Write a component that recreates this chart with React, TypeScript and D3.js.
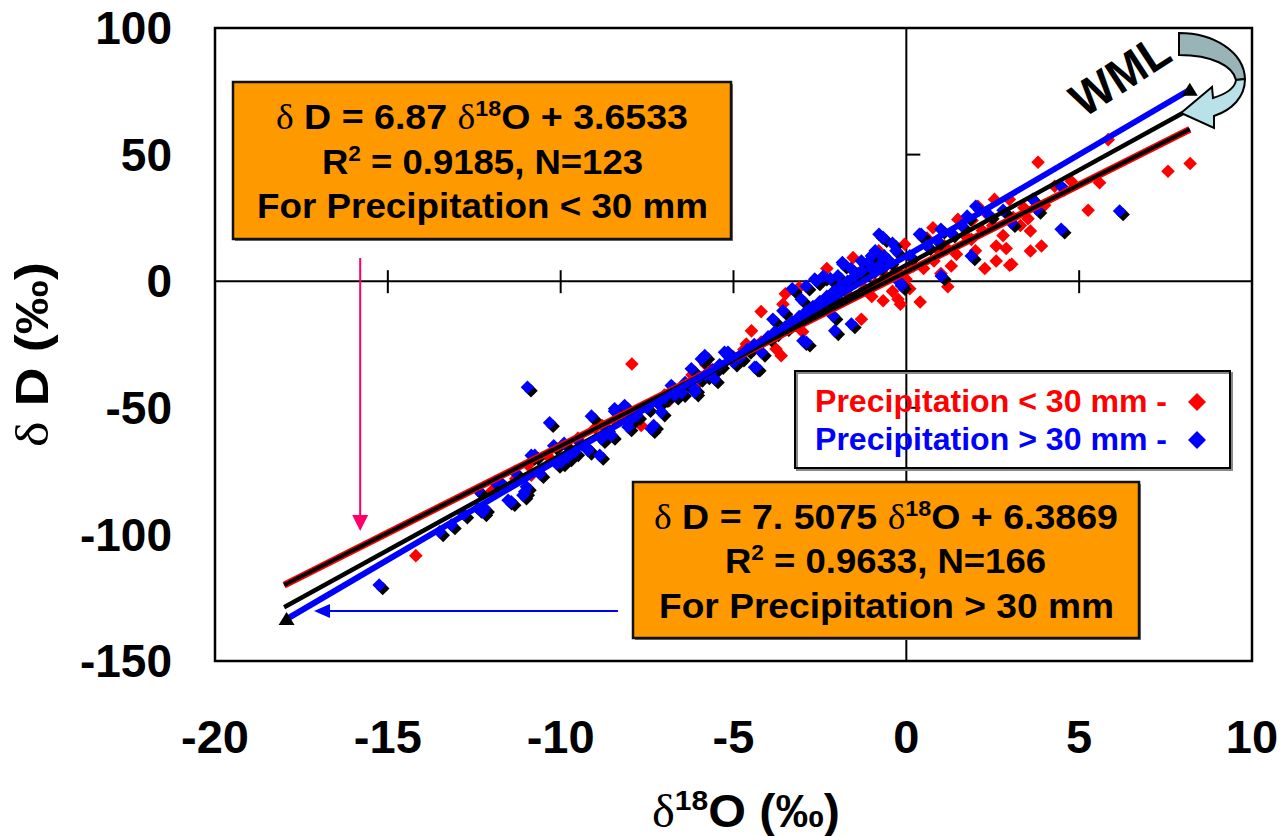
import React, { useEffect, useRef } from 'react'
import * as d3 from 'd3'

const xTicks = [-20, -15, -10, -5, 0, 5, 10]
const yTicks = [100, 50, 0, -50, -100, -150]

// Precipitation < 30 mm  [δ18O, δD]
const redPoints: [number, number][] = [
  [8.21, 46.5], [7.57, 43.4], [5.84, 55.9], [3.81, 47.0], [5.59, 38.9], [5.26, 28.0], [4.77, 39.5],
  [4.29, 37.5], [3.91, 13.9], [3.59, 11.9], [3.59, 19.8], [3.52, 24.7], [3.09, 25.1], [3.05, 6.7],
  [2.99, 6.3], [2.98, 32.3], [2.89, 12.9], [2.6, 8.0], [2.6, 13.9], [2.55, 32.3], [2.27, 5.0],
  [2.07, 29.6], [1.88, 16.5], [1.45, 10.6], [1.49, 24.4], [1.2, -2.2], [0.94, 11.9], [0.77, 21.1],
  [0.4, -8.2], [-0.01, 0.8], [-0.05, 14.6], [-0.17, -9.1], [-0.24, -7.1], [-0.67, -7.7], [-1.3, -15],
  [-1.54, 9.3], [-3.1, -2.5], [-3.57, -9.1], [-3.62, -29.4], [-3.77, -26.8], [-4.48, -19.6],
  [-4.63, -24.8], [-6.85, -47.1], [-7.67, -57.0], [-7.94, -32.7], [-10.85, -76.6], [-10.94, -72.7],
  [-14.19, -108.4], [-12.0, -83], [-9.5, -62], [-9.0, -58], [-8.4, -55], [-7.0, -45], [-6.5, -42],
  [-6.0, -40], [-5.5, -35], [-5.0, -30], [-4.7, -27], [-4.2, -24], [-3.9, -22], [-3.3, -18],
  [-2.8, -14], [-2.5, -12], [-2.2, -10], [-1.9, -8], [-1.7, -5], [-1.2, -3], [-0.9, -1], [-0.6, 2],
  [-0.3, 4], [0.2, 6], [0.5, 5], [0.8, 8], [1.1, 14], [1.7, 18], [2.2, 20], [2.5, 22], [2.8, 18],
  [3.3, 22], [-2.3, 5], [-2.0, -1], [-1.4, 3], [-0.8, 12], [-3.5, -5], [-4.2, -12], [1.0, 3],
  [0.1, -3], [-0.4, -4], [2.0, 12], [1.3, 6], [-5.8, -33], [-8.8, -57], [-10.3, -70], [-11.3, -78],
  [-6.2, -37], [-3.0, -20], [-1.0, -6], [0.6, 17], [1.9, 24], [2.3, 27], [4.0, 30], [3.4, 29],
]

// Precipitation > 30 mm  [δ18O, δD]
const bluePoints: [number, number][] = [
  [-15.25, -120], [-13.5, -99], [-13.16, -96.3], [-12.8, -92], [-12.39, -89.8], [-12.25, -91.1],
  [-12.39, -82.6], [-12.2, -89.8], [-11.91, -79.3], [-11.7, -80], [-11.52, -86.5], [-11.43, -87.1],
  [-11.33, -75.3], [-11.09, -84.5], [-11.04, -83.2], [-10.99, -81.2], [-10.96, -41.9], [-10.85, -68.8],
  [-10.75, -68.8], [-10.6, -76], [-10.32, -55.9], [-10.2, -65], [-10.12, -72.0], [-9.98, -71.4],
  [-9.9, -64], [-9.79, -69.4], [-9.59, -67.4], [-9.5, -63], [-9.21, -66.8], [-9.21, -66.1],
  [-9.11, -53.3], [-8.87, -68.8], [-8.82, -62.2], [-8.7, -58], [-8.53, -60.9], [-8.44, -51.4],
  [-8.44, -50.4], [-8.15, -49.1], [-8.05, -57.6], [-8.0, -55], [-7.8, -53], [-7.5, -50], [-7.38, -58.3],
  [-7.31, -57.0], [-7.2, -48], [-7.09, -51.7], [-7.0, -46], [-6.8, -41.2], [-6.7, -45], [-6.5, -44],
  [-6.4, -40], [-6.22, -34.6], [-6.12, -43.8], [-6.12, -42.5], [-6.0, -38], [-5.93, -30.7],
  [-5.83, -29.4], [-5.8, -37], [-5.6, -35], [-5.55, -38.6], [-5.4, -33], [-5.26, -28.1], [-5.16, -28.1],
  [-5.0, -32], [-4.8, -30], [-4.6, -27], [-4.4, -25], [-4.39, -34.0], [-4.34, -34.0], [-4.19, -28.1],
  [-4.0, -22], [-3.86, -15.0], [-3.8, -20], [-3.57, -11.7], [-3.5, -18], [-3.3, -16], [-3.3, -3],
  [-3.1, -14], [-3.04, -7.1], [-2.99, -23.5], [-2.9, -12], [-2.9, -2], [-2.89, -24.1], [-2.7, -10],
  [-2.65, 0.8], [-2.6, 0.1], [-2.5, -8], [-2.4, 2], [-2.3, -6], [-2.2, 1], [-2.12, -13.7], [-2.1, -4],
  [-2.07, -19.6], [-1.98, 2.1], [-1.9, -2], [-1.85, 7.4], [-1.83, 6.7], [-1.7, 0], [-1.6, 5],
  [-1.59, -16.9], [-1.5, 2], [-1.3, 4], [-1.3, 8], [-1.11, 7.4], [-1.01, 10.0], [-1.0, 5], [-0.9, 12],
  [-0.8, 6], [-0.79, 18.5], [-0.67, 9.3], [-0.67, 17.2], [-0.64, 10.0], [-0.5, 8], [-0.4, 15],
  [-0.3, 12], [-0.19, -0.5], [-0.14, -1.8], [0.1, 10], [0.38, 18.5], [0.43, 18.5], [0.6, 14],
  [0.9, 16], [1.0, 20.5], [1.01, 2.1], [1.3, 19], [1.6, 22], [1.76, 25.7], [1.88, 10.0], [2.01, 29.6],
  [2.4, 26], [2.8, 28], [3.04, 23.1], [3.66, 32.3], [3.78, 28.3], [4.48, 20.5], [4.48, 37.5], [6.17, 27.7],
]

// fitted lines: slope, intercept, x range
const lowFit = { slope: 6.87, intercept: 3.6533, from: -18, to: 8.2 }
const highFit = { slope: 7.5075, intercept: 6.3869, from: -18, to: 8.0 }
const wml = { slope: 8, intercept: 10, from: -17.93, to: 8.2 }

const sans = 'Liberation Sans, Arial, sans-serif'
const serif = 'Liberation Serif, Times New Roman, serif'

type Part = { t: string, sym?: boolean, sup?: boolean }

function richText(parent: any, parts: Part[], left: number, baseline: number, size: number, width: number, fill = '#000') {
  const txt = parent.append('text')
    .attr('x', left).attr('y', baseline)
    .attr('font-family', sans).attr('font-weight', 'bold')
    .attr('font-size', size).attr('fill', fill)
    .attr('textLength', width).attr('lengthAdjust', 'spacingAndGlyphs')
  let raised = false
  parts.forEach(p => {
    const ts = txt.append('tspan').text(p.t)
    if (p.sym) ts.attr('font-family', serif).attr('font-weight', 'normal')
    if (p.sup) {
      ts.attr('font-size', size * 0.62)
      if (!raised) { ts.attr('dy', -size * 0.38); raised = true }
    } else if (raised) {
      ts.attr('dy', size * 0.38); raised = false
    }
  })
  return txt
}

const diamond = (cx: number, cy: number, r: number) =>
  `M${cx},${cy - r}L${cx + r},${cy}L${cx},${cy + r}L${cx - r},${cy}Z`

function drawChart(el: SVGSVGElement) {
  const svg = d3.select(el)
  svg.selectAll('*').remove()

  const x = d3.scaleLinear().domain([-20, 10]).range([215, 1252])
  const y = d3.scaleLinear().domain([-150, 100]).range([661, 28])

  svg.append('rect').attr('width', 1281).attr('height', 836).attr('fill', '#fff')

  // frame + axes through origin
  svg.append('rect')
    .attr('x', x(-20)).attr('y', y(100))
    .attr('width', x(10) - x(-20)).attr('height', y(-150) - y(100))
    .attr('fill', 'none').attr('stroke', '#000').attr('stroke-width', 2.5)
  svg.append('line').attr('x1', x(-20)).attr('x2', x(10)).attr('y1', y(0)).attr('y2', y(0))
    .attr('stroke', '#000').attr('stroke-width', 2)
  svg.append('line').attr('x1', x(0)).attr('x2', x(0)).attr('y1', y(100)).attr('y2', y(-150))
    .attr('stroke', '#000').attr('stroke-width', 2)
  xTicks.filter(v => v > -20 && v < 10 && v !== 0).forEach(v => {
    svg.append('line').attr('x1', x(v)).attr('x2', x(v)).attr('y1', y(0) - 11).attr('y2', y(0) + 12)
      .attr('stroke', '#000').attr('stroke-width', 2)
  })
  yTicks.filter(v => v < 100 && v > -150 && v !== 0).forEach(v => {
    svg.append('line').attr('x1', x(0)).attr('x2', x(0) + 14).attr('y1', y(v)).attr('y2', y(v))
      .attr('stroke', '#000').attr('stroke-width', 2)
  })

  // tick labels
  yTicks.forEach(v => {
    svg.append('text').attr('x', 172).attr('y', y(v)).attr('dy', '0.35em')
      .attr('text-anchor', 'end').attr('font-family', sans).attr('font-weight', 'bold')
      .attr('font-size', 46).text(String(v))
  })
  xTicks.forEach(v => {
    svg.append('text').attr('x', x(v)).attr('y', 753)
      .attr('text-anchor', 'middle').attr('font-family', sans).attr('font-weight', 'bold')
      .attr('font-size', 47).text(String(v))
  })

  // axis titles
  const yt = svg.append('g').attr('transform', 'translate(48,447) rotate(-90)')
  richText(yt, [{ t: 'δ', sym: true }, { t: ' D (‰)' }], 0, 0, 46, 185)
  richText(svg, [{ t: 'δ', sym: true }, { t: '18', sup: true }, { t: 'O (‰)' }], 652, 827, 46, 188)

  // points
  svg.append('g').selectAll('path').data(redPoints).enter().append('path')
    .attr('d', d => diamond(x(d[0]), y(d[1]), 6.8)).attr('fill', '#ff0000')
  svg.append('g').selectAll('path').data(bluePoints).enter().append('path')
    .attr('d', d => diamond(x(d[0]) + 3.5, y(d[1]) + 3.5, 6.8)).attr('fill', '#000')
  svg.append('g').selectAll('path').data(bluePoints).enter().append('path')
    .attr('d', d => diamond(x(d[0]), y(d[1]), 6.8)).attr('fill', '#0000ff')

  // lines
  const fitLine = (f: typeof lowFit) => d3.line<number>()
    .x(v => x(v)).y(v => y(f.slope * v + f.intercept))([f.from, f.to])
  svg.append('path').attr('d', fitLine(lowFit)).attr('stroke', '#ff0000').attr('stroke-width', 7).attr('fill', 'none')
  svg.append('path').attr('d', fitLine(lowFit)).attr('stroke', '#000').attr('stroke-width', 4).attr('fill', 'none')
  svg.append('path').attr('d', fitLine(highFit)).attr('stroke', '#000').attr('stroke-width', 4.5).attr('fill', 'none')
  svg.append('path').attr('d', fitLine(wml)).attr('stroke', '#0000ff').attr('stroke-width', 6).attr('fill', 'none')
  ;[wml.from, wml.to].forEach(v => {
    const px = x(v), py = y(wml.slope * v + wml.intercept)
    svg.append('path').attr('d', `M${px},${py - 7}L${px + 8},${py + 6}L${px - 8},${py + 6}Z`).attr('fill', '#000')
  })

  // WML label and curved arrow
  svg.append('text').attr('transform', 'translate(1120,75) rotate(-33)')
    .attr('text-anchor', 'middle').attr('dy', '0.35em')
    .attr('font-family', sans).attr('font-weight', 'bold').attr('font-size', 48)
    .attr('textLength', 108).attr('lengthAdjust', 'spacingAndGlyphs').text('WML')
  svg.append('path')
    .attr('d', 'M1179,33 C1214,33 1244,52 1245,79 L1236,80 C1233,66 1212,55 1179,55 Z')
    .attr('fill', '#99b4b7').attr('stroke', '#000').attr('stroke-width', 2)
  svg.append('path')
    .attr('d', 'M1245,79 C1245,97 1232,110 1214,116 L1214,128 L1181,113 L1212,87 L1213,98 C1226,94 1235,88 1236,80 Z')
    .attr('fill', '#b8e2e8').attr('stroke', '#000').attr('stroke-width', 2)

  // pointer arrows
  const px = x(-15.8)
  svg.append('line').attr('x1', px).attr('x2', px).attr('y1', 258).attr('y2', 518)
    .attr('stroke', '#ff0066').attr('stroke-width', 2)
  svg.append('path').attr('d', `M${px - 8},515L${px + 8},515L${px},531Z`).attr('fill', '#ff0066')
  svg.append('line').attr('x1', 618).attr('x2', 326).attr('y1', 611).attr('y2', 611)
    .attr('stroke', '#0000ff').attr('stroke-width', 2)
  svg.append('path').attr('d', 'M330,604L330,618L314,611Z').attr('fill', '#0000ff')

  // equation boxes
  const box = (x0: number, y0: number, w: number, h: number) => {
    svg.append('rect').attr('x', x0 + 2).attr('y', y0 + 2).attr('width', w).attr('height', h).attr('fill', '#777')
    svg.append('rect').attr('x', x0).attr('y', y0).attr('width', w).attr('height', h)
      .attr('fill', '#ff9900').attr('stroke', '#111').attr('stroke-width', 2.5)
  }
  box(233, 82, 498, 157)
  richText(svg, [{ t: 'δ', sym: true }, { t: ' D = 6.87 ' }, { t: 'δ', sym: true }, { t: '18', sup: true }, { t: 'O + 3.6533' }], 276, 129, 35, 412)
  richText(svg, [{ t: 'R' }, { t: '2', sup: true }, { t: ' = 0.9185, N=123' }], 322, 174, 35, 321)
  richText(svg, [{ t: 'For Precipitation < 30 mm' }], 257, 218, 35, 451)

  box(633, 482, 506, 156)
  richText(svg, [{ t: 'δ', sym: true }, { t: ' D = 7. 5075 ' }, { t: 'δ', sym: true }, { t: '18', sup: true }, { t: 'O + 6.3869' }], 654, 529, 35, 464)
  richText(svg, [{ t: 'R' }, { t: '2', sup: true }, { t: ' = 0.9633, N=166' }], 725, 573, 35, 321)
  richText(svg, [{ t: 'For Precipitation > 30 mm' }], 659, 618, 35, 455)

  // legend
  svg.append('rect').attr('x', 797).attr('y', 373).attr('width', 435).attr('height', 97)
    .attr('fill', 'none').attr('stroke', '#888').attr('stroke-width', 2)
  svg.append('rect').attr('x', 795).attr('y', 371).attr('width', 435).attr('height', 97)
    .attr('fill', 'none').attr('stroke', '#000').attr('stroke-width', 2)
  richText(svg, [{ t: 'Precipitation < 30 mm -' }], 815, 412, 32, 352, '#ff0000')
  richText(svg, [{ t: 'Precipitation > 30 mm -' }], 815, 450, 32, 352, '#0000ff')
  svg.append('path').attr('d', diamond(1197, 402, 9)).attr('fill', '#ff0000')
  svg.append('path').attr('d', diamond(1197, 440, 9)).attr('fill', '#0000ff')
}

const App = () => {
  const ref = useRef<SVGSVGElement>(null)
  useEffect(() => {
    if (ref.current) drawChart(ref.current)
  }, [])
  return (
    <svg ref={ref} width={1281} height={836}
      style={{ position: 'absolute', left: 0, top: 0, display: 'block' }} />
  )
}

export default App
